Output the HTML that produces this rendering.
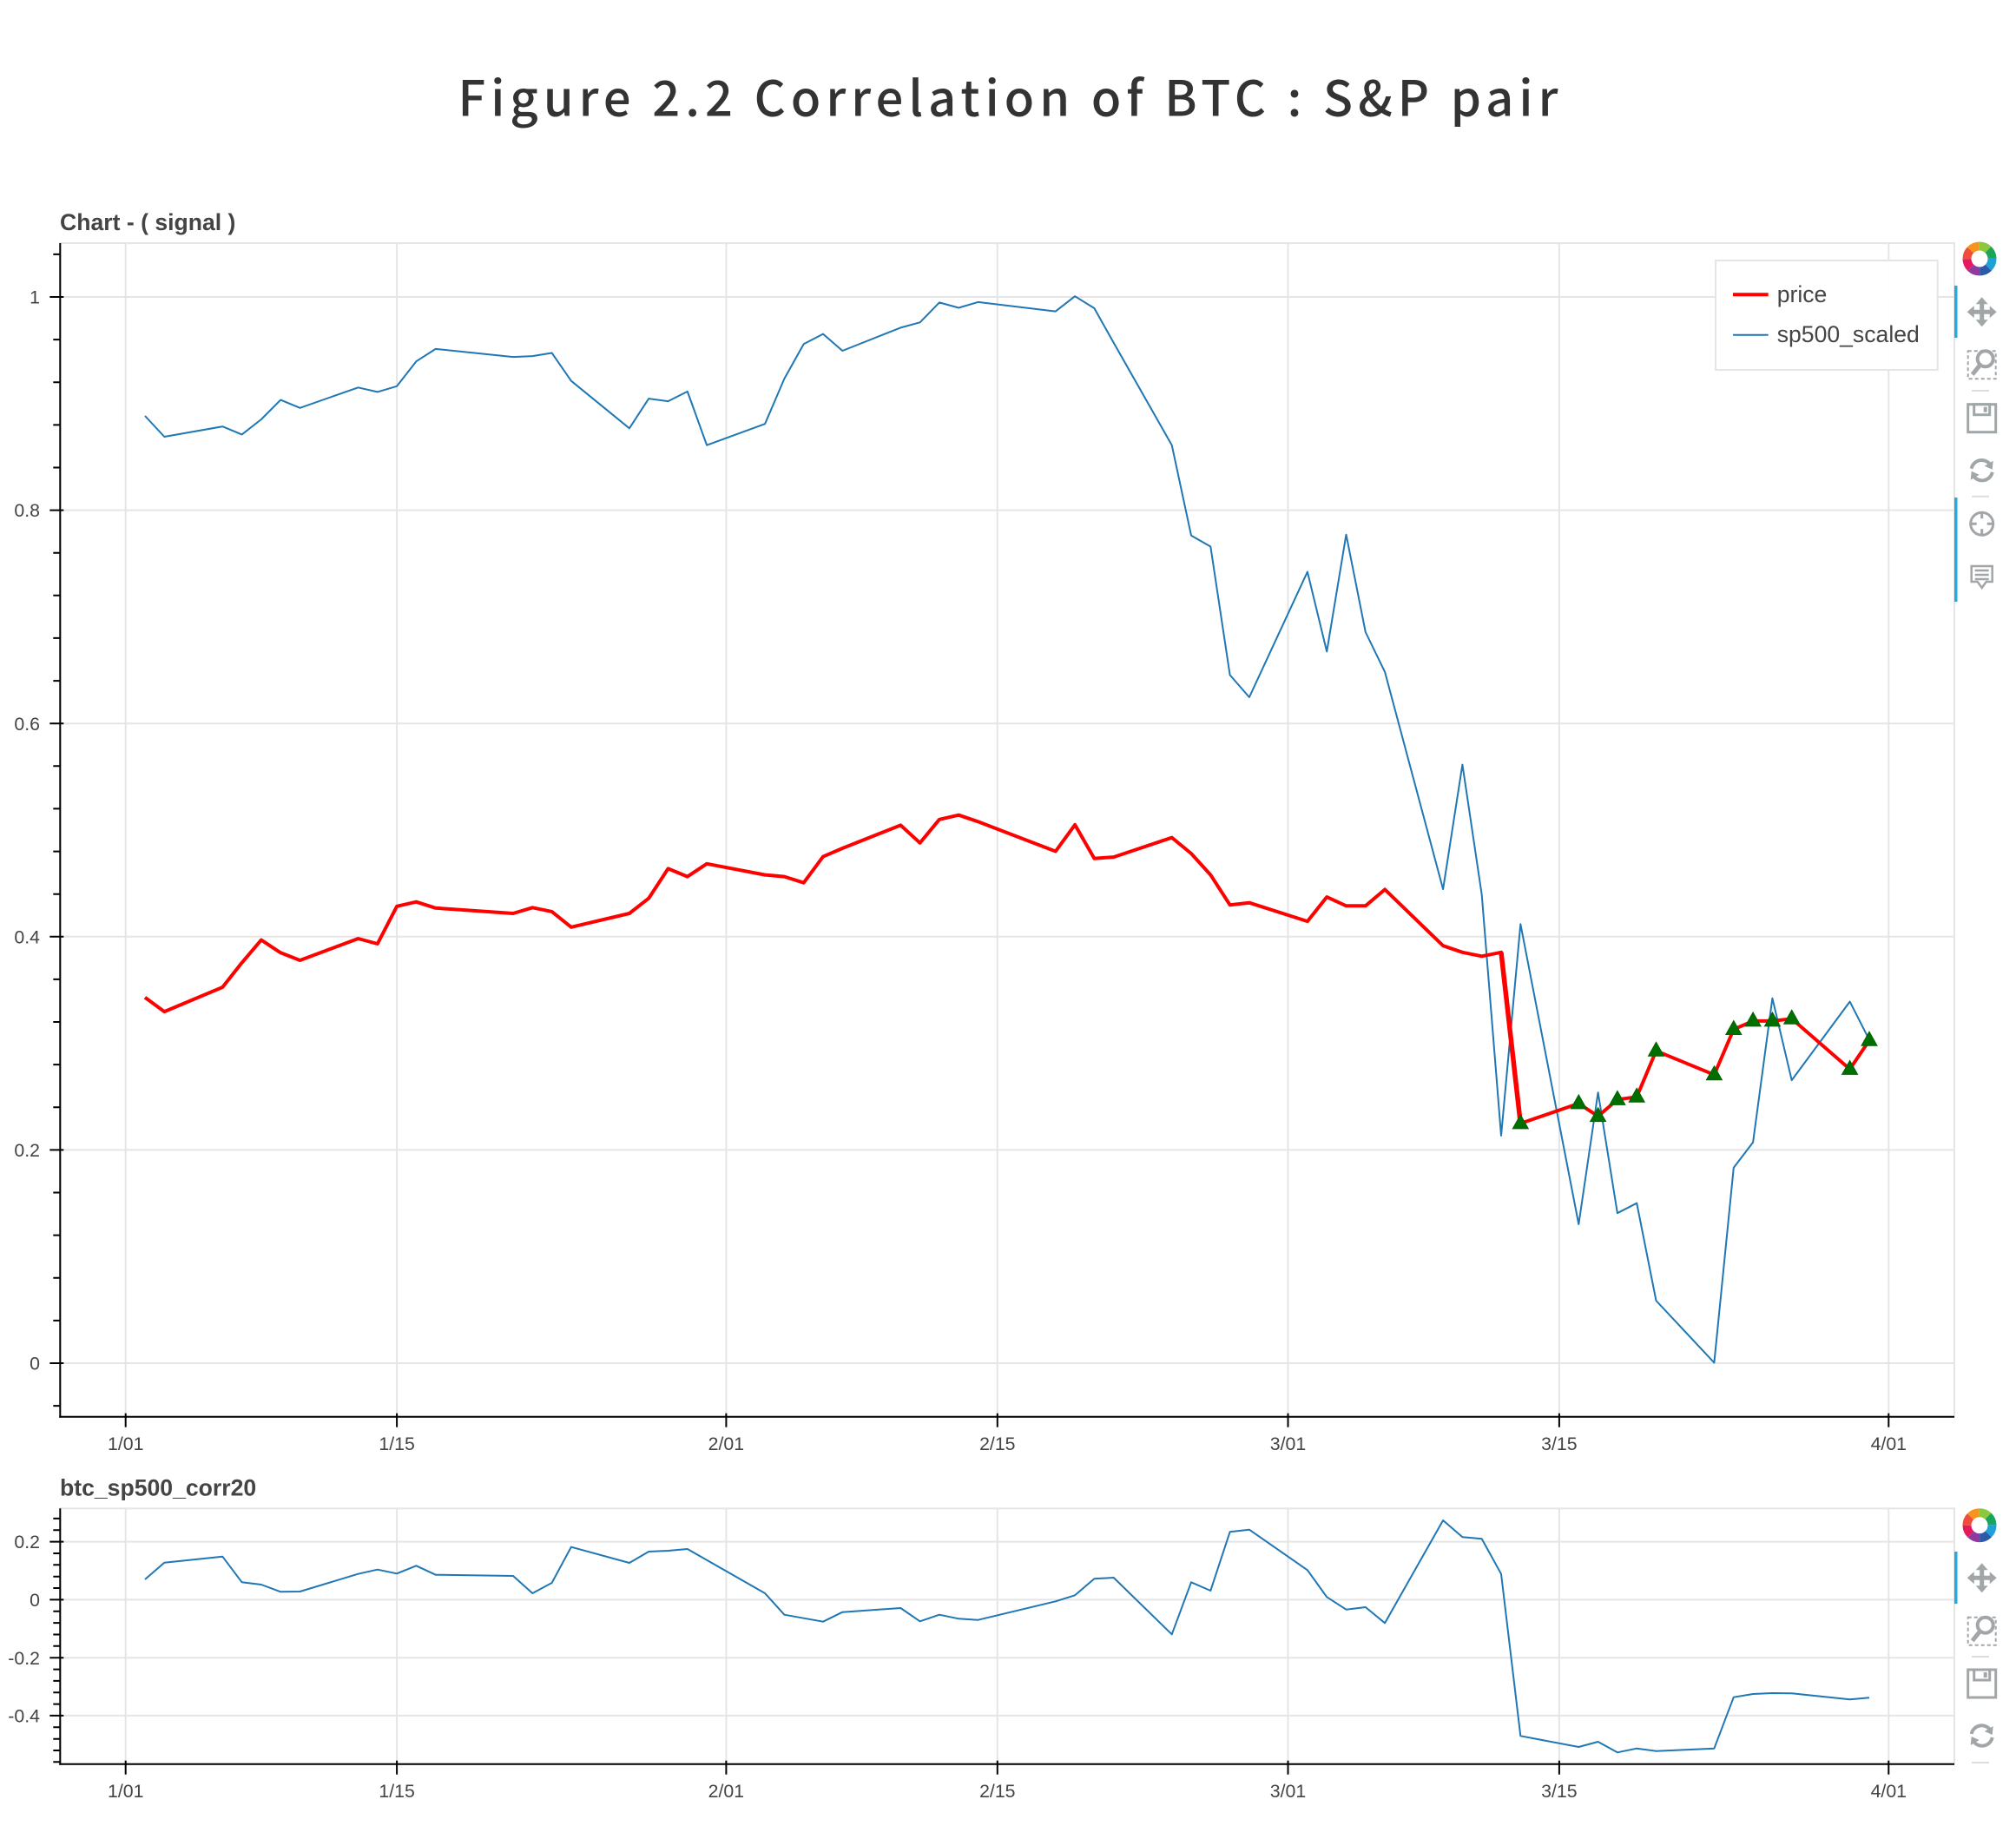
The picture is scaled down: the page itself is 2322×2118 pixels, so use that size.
<!DOCTYPE html>
<html><head><meta charset="utf-8"><style>
html,body{margin:0;padding:0;background:#fff;}
svg{display:block;}
.tk{font-family:"Liberation Sans",Arial,sans-serif;font-size:21.3px;fill:#444;}
.ttl{font-family:"Liberation Sans",Arial,sans-serif;font-size:26.6px;font-weight:bold;fill:#444;}
.lg{font-family:"Liberation Sans",Arial,sans-serif;font-size:26.6px;fill:#444;}
</style></head><body>
<svg width="2322" height="2118" viewBox="0 0 2322 2118" xmlns="http://www.w3.org/2000/svg">
<rect width="2322" height="2118" fill="#fff"/>
<text x="1161" y="133.3" text-anchor="middle" textLength="1267" lengthAdjust="spacing" style="font-family:'Noto Sans CJK JP','Liberation Sans',sans-serif;font-size:56px;font-weight:500;fill:#333;">Figure 2.2 Correlation of BTC : S&amp;P pair</text>

<!-- ============ MAIN CHART ============ -->
<text class="ttl" x="69" y="265">Chart - ( signal )</text>
<g stroke="#e5e5e5" stroke-width="2">
<line x1="144.7" y1="280" x2="144.7" y2="1631.7"/>
<line x1="457.1" y1="280" x2="457.1" y2="1631.7"/>
<line x1="836.4" y1="280" x2="836.4" y2="1631.7"/>
<line x1="1148.8" y1="280" x2="1148.8" y2="1631.7"/>
<line x1="1483.5" y1="280" x2="1483.5" y2="1631.7"/>
<line x1="1795.9" y1="280" x2="1795.9" y2="1631.7"/>
<line x1="2175.3" y1="280" x2="2175.3" y2="1631.7"/>
<line x1="69.3" y1="1570" x2="2251" y2="1570"/>
<line x1="69.3" y1="1324.4" x2="2251" y2="1324.4"/>
<line x1="69.3" y1="1078.8" x2="2251" y2="1078.8"/>
<line x1="69.3" y1="833.2" x2="2251" y2="833.2"/>
<line x1="69.3" y1="587.6" x2="2251" y2="587.6"/>
<line x1="69.3" y1="342" x2="2251" y2="342"/>
</g>
<rect x="69.3" y="280" width="2181.7" height="1351.7" fill="none" stroke="#e5e5e5" stroke-width="2"/>

<polyline fill="none" stroke="#1f77b4" stroke-width="2" stroke-linejoin="round" points="167.0,479 189.3,503 256.3,491.2 278.6,500.4 300.9,483 323.2,460.6 345.5,469.8 412.5,446.3 434.8,451.4 457.1,444.8 479.4,416.2 501.7,401.9 591.0,411.1 613.3,410.1 635.6,406.5 657.9,438.7 724.9,493.3 747.2,459.1 769.5,462.1 791.8,450.9 814.1,512.7 881.1,488.2 903.4,436.1 925.7,396.3 948.0,384.6 970.3,404 1037.3,377.4 1059.6,371.3 1081.9,348.4 1104.2,354.5 1126.5,347.9 1215.8,358.6 1238.1,341.2 1260.4,355 1282.7,394.8 1349.7,512.7 1372.0,616.7 1394.3,629.5 1416.6,777.4 1438.9,803 1505.9,658.6 1528.2,750.4 1550.5,615.7 1572.8,728 1595.1,773.9 1662.1,1024.1 1684.4,880.6 1706.7,1030.5 1729.0,1307.9 1751.3,1064.3 1818.3,1410 1840.6,1258.2 1862.9,1397.2 1885.2,1385.7 1907.5,1498 1974.4,1569.4 1996.8,1344.9 2019.1,1315.6 2041.4,1149.7 2063.7,1244.1 2130.6,1153.6 2153.0,1197.6"/>
<polyline fill="none" stroke="#ff0000" stroke-width="4" stroke-linejoin="round" points="167.0,1148.8 189.3,1165.1 256.3,1137 278.6,1108.8 300.9,1082.6 323.2,1097.3 345.5,1106 412.5,1081 434.8,1087 457.1,1043.8 479.4,1038.7 501.7,1045.8 591.0,1052 613.3,1045.3 635.6,1049.9 657.9,1067.8 724.9,1052 747.2,1034.6 769.5,1000.4 791.8,1009.6 814.1,994.8 881.1,1007.6 903.4,1009.6 925.7,1016.7 948.0,986.6 970.3,977 1037.3,950.4 1059.6,970.8 1081.9,943.8 1104.2,938.7 1126.5,946.3 1215.8,980.5 1238.1,949.9 1260.4,988.7 1282.7,987.1 1349.7,964.7 1372.0,983 1394.3,1007.6 1416.6,1042.2 1438.9,1039.7 1505.9,1061.1 1528.2,1033.1 1550.5,1043.3 1572.8,1043.3 1595.1,1024.4 1662.1,1089.2 1684.4,1096.8 1706.7,1101.3 1729.0,1096.8 1751.3,1293.9 1818.3,1270.9 1840.6,1285.6 1862.9,1266.4 1885.2,1263.3 1907.5,1210.3 1974.4,1237.8 1996.8,1185.5 2019.1,1175.9 2041.4,1175.9 2063.7,1173.3 2130.6,1231.4 2153.0,1198.2"/>
<line x1="1729.0" y1="1096.8" x2="1751.3" y2="1293.9" stroke="#ff0000" stroke-width="5.5"/>
<g fill="#006f00" stroke="#006400" stroke-width="1">
<path d="M1751.3,1283.9 L1760.3,1299.9 L1742.3,1299.9 Z"/>
<path d="M1818.3,1260.9 L1827.3,1276.9 L1809.3,1276.9 Z"/>
<path d="M1840.6,1275.6 L1849.6,1291.6 L1831.6,1291.6 Z"/>
<path d="M1862.9,1256.4 L1871.9,1272.4 L1853.9,1272.4 Z"/>
<path d="M1885.2,1253.3 L1894.2,1269.3 L1876.2,1269.3 Z"/>
<path d="M1907.5,1200.3 L1916.5,1216.3 L1898.5,1216.3 Z"/>
<path d="M1974.4,1227.8 L1983.4,1243.8 L1965.4,1243.8 Z"/>
<path d="M1996.8,1175.5 L2005.8,1191.5 L1987.8,1191.5 Z"/>
<path d="M2019.1,1165.9 L2028.1,1181.9 L2010.1,1181.9 Z"/>
<path d="M2041.4,1165.9 L2050.4,1181.9 L2032.4,1181.9 Z"/>
<path d="M2063.7,1163.3 L2072.7,1179.3 L2054.7,1179.3 Z"/>
<path d="M2130.6,1221.4 L2139.6,1237.4 L2121.6,1237.4 Z"/>
<path d="M2153.0,1188.2 L2162.0,1204.2 L2144.0,1204.2 Z"/>
</g>

<!-- legend -->
<rect x="1976" y="300" width="255.7" height="126" fill="#fff" fill-opacity="0.95" stroke="#e5e5e5" stroke-width="2"/>
<line x1="1996" y1="339.3" x2="2036.7" y2="339.3" stroke="#ff0000" stroke-width="4"/>
<line x1="1996" y1="385.7" x2="2036.7" y2="385.7" stroke="#1f77b4" stroke-width="2"/>
<text class="lg" x="2046.7" y="348">price</text>
<text class="lg" x="2046.7" y="394">sp500_scaled</text>

<!-- axes main -->
<g stroke="#000" stroke-width="2">
<line x1="69.3" y1="280" x2="69.3" y2="1632.7"/>
<line x1="68.3" y1="1631.7" x2="2251" y2="1631.7"/>
<line x1="57.3" y1="1570" x2="73.3" y2="1570"/>
<line x1="57.3" y1="1324.4" x2="73.3" y2="1324.4"/>
<line x1="57.3" y1="1078.8" x2="73.3" y2="1078.8"/>
<line x1="57.3" y1="833.2" x2="73.3" y2="833.2"/>
<line x1="57.3" y1="587.6" x2="73.3" y2="587.6"/>
<line x1="57.3" y1="342" x2="73.3" y2="342"/>
<line x1="144.7" y1="1627.7" x2="144.7" y2="1643.7"/>
<line x1="457.1" y1="1627.7" x2="457.1" y2="1643.7"/>
<line x1="836.4" y1="1627.7" x2="836.4" y2="1643.7"/>
<line x1="1148.8" y1="1627.7" x2="1148.8" y2="1643.7"/>
<line x1="1483.5" y1="1627.7" x2="1483.5" y2="1643.7"/>
<line x1="1795.9" y1="1627.7" x2="1795.9" y2="1643.7"/>
<line x1="2175.3" y1="1627.7" x2="2175.3" y2="1643.7"/>
</g>
<path stroke="#000" stroke-width="2" d="M61.3,1619.1H69.3M61.3,1520.9H69.3M61.3,1471.8H69.3M61.3,1422.6H69.3M61.3,1373.5H69.3M61.3,1275.3H69.3M61.3,1226.1H69.3M61.3,1177.0H69.3M61.3,1127.9H69.3M61.3,1029.7H69.3M61.3,980.6H69.3M61.3,931.4H69.3M61.3,882.3H69.3M61.3,784.1H69.3M61.3,734.9H69.3M61.3,685.8H69.3M61.3,636.7H69.3M61.3,538.5H69.3M61.3,489.4H69.3M61.3,440.2H69.3M61.3,391.1H69.3M61.3,292.9H69.3"/>
<g class="tk" text-anchor="end">
<text x="46" y="1577.6">0</text>
<text x="46" y="1332">0.2</text>
<text x="46" y="1086.4">0.4</text>
<text x="46" y="840.8">0.6</text>
<text x="46" y="595.2">0.8</text>
<text x="46" y="349.6">1</text>
</g>
<g class="tk" text-anchor="middle">
<text x="144.7" y="1670">1/01</text>
<text x="457.1" y="1670">1/15</text>
<text x="836.4" y="1670">2/01</text>
<text x="1148.8" y="1670">2/15</text>
<text x="1483.5" y="1670">3/01</text>
<text x="1795.9" y="1670">3/15</text>
<text x="2175.3" y="1670">4/01</text>
</g>

<!-- ============ LOWER CHART ============ -->
<text class="ttl" x="69" y="1722.7">btc_sp500_corr20</text>
<g stroke="#e5e5e5" stroke-width="2">
<line x1="144.7" y1="1737.3" x2="144.7" y2="2031.7"/>
<line x1="457.1" y1="1737.3" x2="457.1" y2="2031.7"/>
<line x1="836.4" y1="1737.3" x2="836.4" y2="2031.7"/>
<line x1="1148.8" y1="1737.3" x2="1148.8" y2="2031.7"/>
<line x1="1483.5" y1="1737.3" x2="1483.5" y2="2031.7"/>
<line x1="1795.9" y1="1737.3" x2="1795.9" y2="2031.7"/>
<line x1="2175.3" y1="1737.3" x2="2175.3" y2="2031.7"/>
<line x1="69.3" y1="1775.6" x2="2251" y2="1775.6"/>
<line x1="69.3" y1="1842.4" x2="2251" y2="1842.4"/>
<line x1="69.3" y1="1909.2" x2="2251" y2="1909.2"/>
<line x1="69.3" y1="1975.9" x2="2251" y2="1975.9"/>
</g>
<rect x="69.3" y="1737.3" width="2181.7" height="294.4" fill="none" stroke="#e5e5e5" stroke-width="2"/>
<polyline fill="none" stroke="#1f77b4" stroke-width="2" stroke-linejoin="round" points="167.0,1819 189.3,1799.7 256.3,1792.7 278.6,1822.3 300.9,1825 323.2,1833.3 345.5,1833 412.5,1812.7 434.8,1807.7 457.1,1812.3 479.4,1803.3 501.7,1813.7 591.0,1815 613.3,1835 635.6,1823 657.9,1781.7 724.9,1800 747.2,1787 769.5,1786 791.8,1784 814.1,1796.7 881.1,1835 903.4,1859.7 925.7,1863.7 948.0,1867.7 970.3,1856.7 1037.3,1852 1059.6,1867.3 1081.9,1859.7 1104.2,1864.3 1126.5,1865.7 1215.8,1844.3 1238.1,1837.3 1260.4,1818.3 1282.7,1817 1349.7,1882.3 1372.0,1822.3 1394.3,1832 1416.6,1764.3 1438.9,1761.7 1505.9,1808.3 1528.2,1839.3 1550.5,1853.7 1572.8,1851 1595.1,1869.3 1662.1,1751 1684.4,1770.3 1706.7,1772.3 1729.0,1812.7 1751.3,1999.3 1818.3,2012 1840.6,2006 1862.9,2018.3 1885.2,2013.7 1907.5,2016.7 1974.4,2013.7 1996.8,1954.7 2019.1,1951 2041.4,1950 2063.7,1950.3 2130.6,1957.3 2153.0,1955.3"/>
<g stroke="#000" stroke-width="2">
<line x1="69.3" y1="1737.3" x2="69.3" y2="2032.7"/>
<line x1="68.3" y1="2031.7" x2="2251" y2="2031.7"/>
<line x1="57.3" y1="1775.6" x2="73.3" y2="1775.6"/>
<line x1="57.3" y1="1842.4" x2="73.3" y2="1842.4"/>
<line x1="57.3" y1="1909.2" x2="73.3" y2="1909.2"/>
<line x1="57.3" y1="1975.9" x2="73.3" y2="1975.9"/>
<line x1="144.7" y1="2027.7" x2="144.7" y2="2043.7"/>
<line x1="457.1" y1="2027.7" x2="457.1" y2="2043.7"/>
<line x1="836.4" y1="2027.7" x2="836.4" y2="2043.7"/>
<line x1="1148.8" y1="2027.7" x2="1148.8" y2="2043.7"/>
<line x1="1483.5" y1="2027.7" x2="1483.5" y2="2043.7"/>
<line x1="1795.9" y1="2027.7" x2="1795.9" y2="2043.7"/>
<line x1="2175.3" y1="2027.7" x2="2175.3" y2="2043.7"/>
</g>
<path stroke="#000" stroke-width="2" d="M61.3,1748.9H69.3M61.3,1762.3H69.3M61.3,1789.0H69.3M61.3,1802.3H69.3M61.3,1815.7H69.3M61.3,1829.0H69.3M61.3,1855.8H69.3M61.3,1869.1H69.3M61.3,1882.5H69.3M61.3,1895.8H69.3M61.3,1922.6H69.3M61.3,1935.9H69.3M61.3,1949.3H69.3M61.3,1962.6H69.3M61.3,1989.3H69.3M61.3,2002.7H69.3M61.3,2016.0H69.3M61.3,2029.3H69.3"/>
<g class="tk" text-anchor="end">
<text x="46" y="1783.2">0.2</text>
<text x="46" y="1850">0</text>
<text x="46" y="1916.8">-0.2</text>
<text x="46" y="1983.5">-0.4</text>
</g>
<g class="tk" text-anchor="middle">
<text x="144.7" y="2070">1/01</text>
<text x="457.1" y="2070">1/15</text>
<text x="836.4" y="2070">2/01</text>
<text x="1148.8" y="2070">2/15</text>
<text x="1483.5" y="2070">3/01</text>
<text x="1795.9" y="2070">3/15</text>
<text x="2175.3" y="2070">4/01</text>
</g>

<!-- ============ TOOLBARS ============ -->
<defs>
<g id="logo">
<circle r="14.5" fill="none" stroke-width="10" pathLength="8" stroke="#20a0d8" stroke-dasharray="1 7" stroke-dashoffset="0"/>
<circle r="14.5" fill="none" stroke-width="10" pathLength="8" stroke="#2c5aa8" stroke-dasharray="1 7" stroke-dashoffset="-1"/>
<circle r="14.5" fill="none" stroke-width="10" pathLength="8" stroke="#8e3a9e" stroke-dasharray="1 7" stroke-dashoffset="-2"/>
<circle r="14.5" fill="none" stroke-width="10" pathLength="8" stroke="#e5195f" stroke-dasharray="1 7" stroke-dashoffset="-3"/>
<circle r="14.5" fill="none" stroke-width="10" pathLength="8" stroke="#f04e3a" stroke-dasharray="1 7" stroke-dashoffset="-4"/>
<circle r="14.5" fill="none" stroke-width="10" pathLength="8" stroke="#f7941d" stroke-dasharray="1 7" stroke-dashoffset="-5"/>
<circle r="14.5" fill="none" stroke-width="10" pathLength="8" stroke="#8dc63f" stroke-dasharray="1 7" stroke-dashoffset="-6"/>
<circle r="14.5" fill="none" stroke-width="10" pathLength="8" stroke="#1aa55a" stroke-dasharray="1 7" stroke-dashoffset="-7"/>
</g>
<g id="pan" fill="#a1a6a9" stroke="#a1a6a9">
<line x1="-12" y1="0" x2="12" y2="0" stroke-width="5"/>
<line x1="0" y1="-12" x2="0" y2="12" stroke-width="5"/>
<path stroke="none" d="M0,-17 L-7,-9 L7,-9Z M0,17 L-7,9 L7,9Z M-17,0 L-9,-7 L-9,7Z M17,0 L9,-7 L9,7Z"/>
</g>
<g id="bzoom" fill="none" stroke="#a1a6a9">
<rect x="-16" y="-15" width="32" height="32" stroke-width="2" stroke-dasharray="4 3"/>
<circle cx="4" cy="-6" r="9" stroke-width="4" fill="#fff"/>
<line x1="-2" y1="1" x2="-11" y2="12" stroke-width="5"/>
</g>
<g id="save" fill="none" stroke="#a1a6a9" stroke-width="3">
<rect x="-16" y="-16" width="32" height="32"/>
<rect x="-9" y="-16" width="18" height="12"/>
<rect x="2" y="-13" width="4" height="6" fill="#a1a6a9" stroke="none"/>
</g>
<g id="reset" fill="none" stroke="#a1a6a9" stroke-width="4">
<path d="M-12,-2 A12,12 0 0 1 10,-6"/>
<path d="M12,2 A12,12 0 0 1 -10,6"/>
<path d="M13,-11 L12,-1 L3,-5Z M-13,11 L-12,1 L-3,5Z" fill="#a1a6a9" stroke="none"/>
</g>
<g id="cross" fill="none" stroke="#a1a6a9" stroke-width="3">
<circle r="13"/>
<path d="M0,-13V-6M0,13V6M-13,0H-6M13,0H6"/>
</g>
<g id="hover" fill="none" stroke="#a1a6a9" stroke-width="2.5">
<path d="M-12,-12 H12 V6 H5 L0,13 L-5,6 H-12Z"/>
<path d="M-8,-7H8M-8,-2H8M-8,3H8"/>
</g>
</defs>

<use href="#logo" x="2280" y="298"/>
<rect x="2251" y="329" width="3.5" height="60" fill="#26aae1"/>
<use href="#pan" x="2282.7" y="359.3"/>
<use href="#bzoom" x="2282.7" y="419.3"/>
<line x1="2271" y1="450" x2="2291" y2="450" stroke="#ddd" stroke-width="2"/>
<use href="#save" x="2282.7" y="481.7"/>
<use href="#reset" x="2282.7" y="541.7"/>
<line x1="2271" y1="571.7" x2="2291" y2="571.7" stroke="#ddd" stroke-width="2"/>
<rect x="2251" y="573" width="3.5" height="120" fill="#26aae1"/>
<use href="#cross" x="2282.7" y="603.3"/>
<use href="#hover" x="2282.7" y="664"/>

<use href="#logo" x="2280" y="1756.7"/>
<rect x="2251" y="1787" width="3.5" height="60" fill="#26aae1"/>
<use href="#pan" x="2282.7" y="1817.3"/>
<use href="#bzoom" x="2282.7" y="1877.7"/>
<line x1="2271" y1="1908" x2="2291" y2="1908" stroke="#ddd" stroke-width="2"/>
<use href="#save" x="2282.7" y="1939"/>
<use href="#reset" x="2282.7" y="1999"/>
<line x1="2271" y1="2030" x2="2291" y2="2030" stroke="#ddd" stroke-width="2"/>
</svg>
</body></html>
